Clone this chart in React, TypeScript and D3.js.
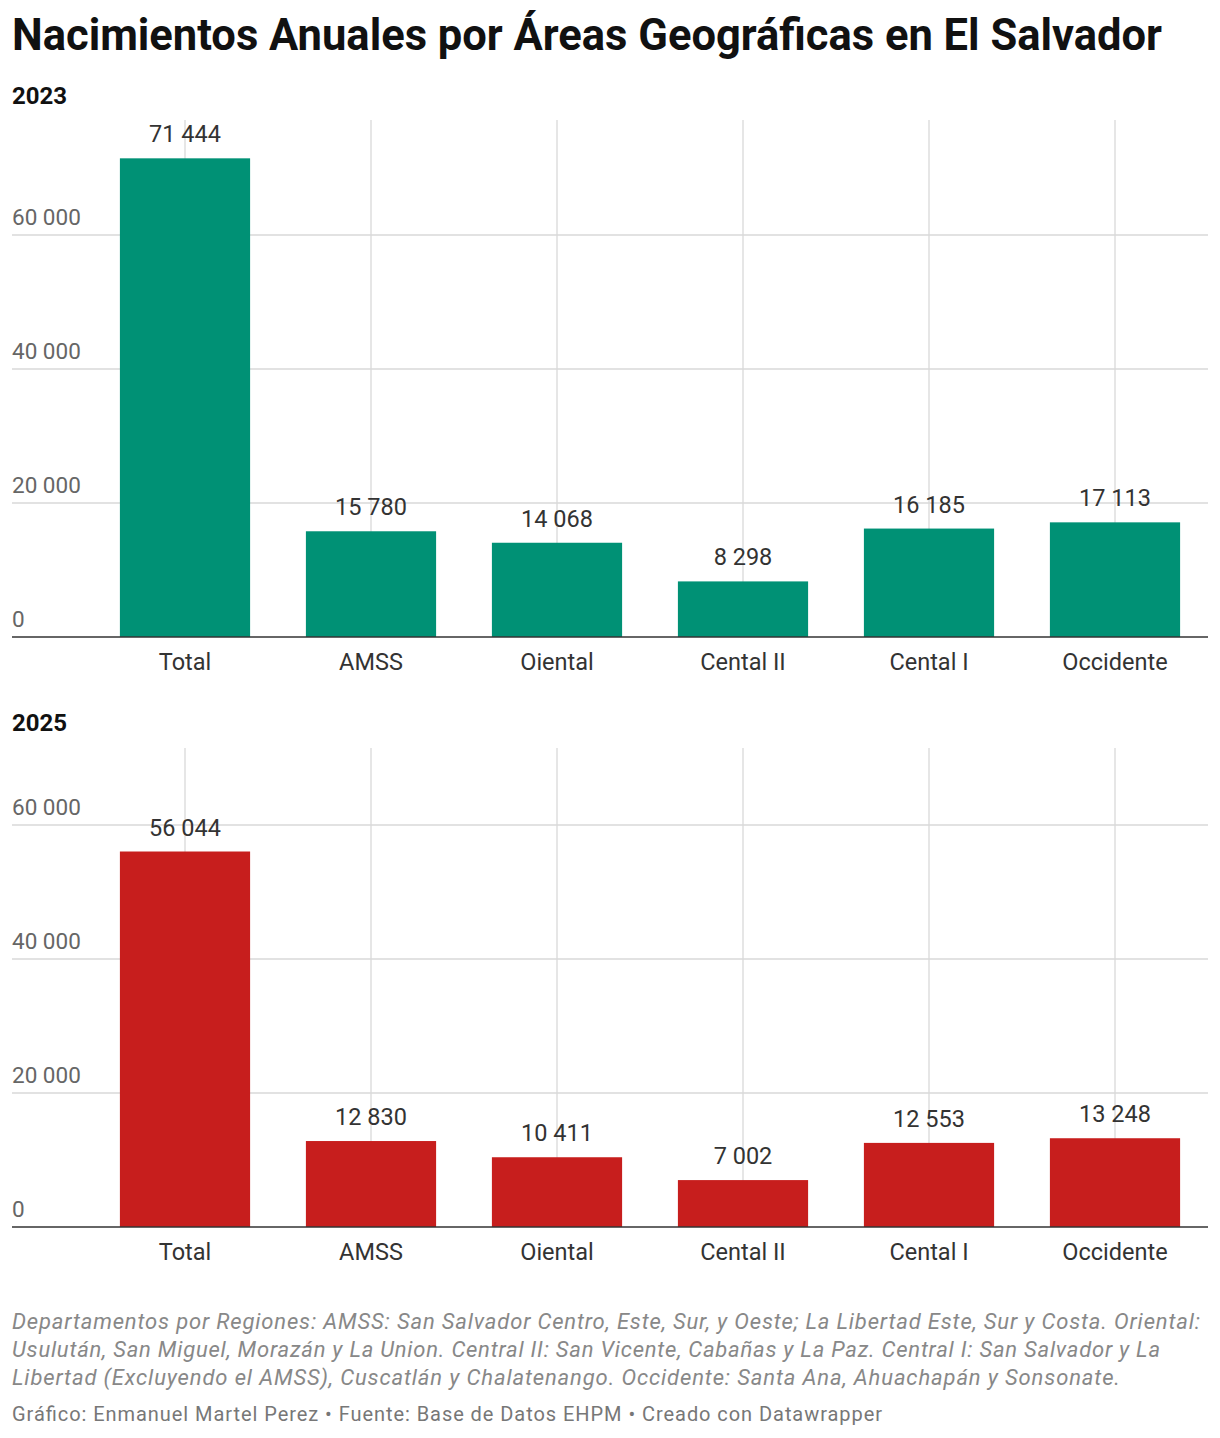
import * as d3 from 'd3'

const CATEGORIES = ['Total', 'AMSS', 'Oiental', 'Cental II', 'Cental I', 'Occidente']
const VALUES_2023 = [71444, 15780, 14068, 8298, 16185, 17113]
const VALUES_2025 = [56044, 12830, 10411, 7002, 12553, 13248]
const Y_TICKS = [0, 20000, 40000, 60000]

const W = 1220
const fmt = (v: number) => d3.format(',')(v).replace(/,/g, ' ')

function Panel({ title, values, color, titleY, plotTop, base }: { title: string; values: number[]; color: string; titleY: number; plotTop: number; base: number }) {
  const x = d3.scaleBand().domain(CATEGORIES).range([92, 1208]).paddingInner(0.3).paddingOuter(0.15)
  const y = d3.scaleLinear().domain([0, 20000]).range([base, base - 134])
  return (
    <g>
      <text x={12} y={titleY} fontSize={24} fontWeight={700} fill="#111">{title}</text>
      {Y_TICKS.map(t => (
        <g key={t}>
          {t > 0 && <line x1={12} x2={1208} y1={y(t)} y2={y(t)} stroke="#d9d9d9" strokeWidth={1.3} />}
          <text x={12} y={y(t) - 10} fontSize={22.5} fill="#666">{fmt(t)}</text>
        </g>
      ))}
      {CATEGORIES.map(c => (
        <line key={c} x1={x(c)! + x.bandwidth() / 2} x2={x(c)! + x.bandwidth() / 2} y1={plotTop} y2={base} stroke="#d9d9d9" strokeWidth={1.3} />
      ))}
      {CATEGORIES.map((c, i) => (
        <g key={c}>
          <rect x={x(c)} width={x.bandwidth()} y={y(values[i])} height={base - y(values[i])} fill={color} />
          <text x={x(c)! + x.bandwidth() / 2} y={y(values[i]) - 16} textAnchor="middle" fontSize={23.5} fill="#333">{fmt(values[i])}</text>
          <text x={x(c)! + x.bandwidth() / 2} y={base + 33} textAnchor="middle" fontSize={23.5} fill="#333">{c}</text>
        </g>
      ))}
      <line x1={12} x2={1208} y1={base} y2={base} stroke="#333" strokeWidth={1.5} />
    </g>
  )
}

export default function App() {
  return (
    <svg width={W} height={1438} style={{ position: 'absolute', left: 0, top: 0, fontFamily: 'Roboto, sans-serif', background: '#fff' }}>
      <text x={12} y={50} fontSize={43.5} fontWeight={700} fill="#111">Nacimientos Anuales por Áreas Geográficas en El Salvador</text>
      <Panel title="2023" values={VALUES_2023} color="#009175" titleY={104} plotTop={120} base={637} />
      <Panel title="2025" values={VALUES_2025} color="#c71e1d" titleY={731} plotTop={748} base={1227} />
      <g fontSize={22} fontStyle="italic" fill="#888">
        <text x={12} y={1329} textLength={1188}>Departamentos por Regiones: AMSS: San Salvador Centro, Este, Sur, y Oeste; La Libertad Este, Sur y Costa. Oriental:</text>
        <text x={12} y={1357} textLength={1148}>Usulután, San Miguel, Morazán y La Union. Central II: San Vicente, Cabañas y La Paz. Central I: San Salvador y La</text>
        <text x={12} y={1385} textLength={1108}>Libertad (Excluyendo el AMSS), Cuscatlán y Chalatenango. Occidente: Santa Ana, Ahuachapán y Sonsonate.</text>
      </g>
      <text x={12} y={1421} fontSize={20} fill="#777" textLength={870}>Gráfico: Enmanuel Martel Perez • Fuente: Base de Datos EHPM • Creado con Datawrapper</text>
    </svg>
  )
}
